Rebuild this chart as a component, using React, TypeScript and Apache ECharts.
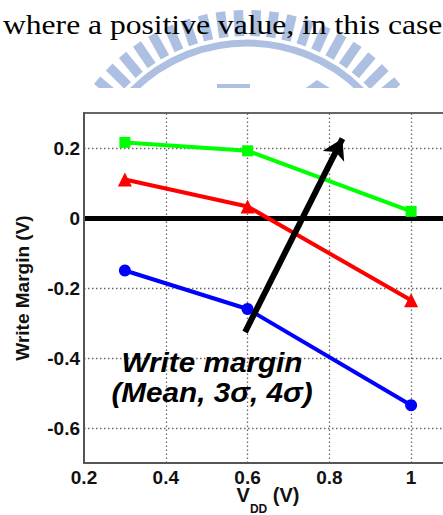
import React, { useEffect, useRef } from 'react';
import * as echarts from 'echarts';

// ---- data ----
const vdd = [0.3, 0.6, 1.0];
const meanMargin = [0.216, 0.192, 0.019];
const sigma3Margin = [0.11, 0.033, -0.235];
const sigma4Margin = [-0.15, -0.26, -0.535];
const xTickLabels = [0.2, 0.4, 0.6, 0.8, 1];
const yTickLabels = [0.2, 0, -0.2, -0.4, -0.6];
const xGridValues = [0.4, 0.6, 0.8, 1.0];
const yGridValues = [0.2, -0.2, -0.4, -0.6];
const zeroLine = [0];
const arrowFrom = [0.594, -0.326];
const arrowTo = [0.832, 0.227];
const headerText = 'where a positive value, in this case';
const annotationLines = ['Write margin', '(Mean, 3σ, 4σ)'];

const FONT = '"Liberation Sans", Arial, Helvetica, sans-serif';

function pickLabel(list: number[]) {
  return (v: number) => {
    const k = Math.round(v * 10);
    const hit = list.find((t) => Math.round(t * 10) === k);
    return hit === undefined ? '' : String(hit);
  };
}

function watermark() {
  const color = '#aec0e2';
  const cx = 247;
  const cy = 205;
  const r1 = 169;
  const r2 = 195;
  const hw = 4.8;
  const els: any[] = [];
  for (let a = 180 + 2.65; a < 360; a += 5.3) {
    const t = (a * Math.PI) / 180;
    const ux = Math.cos(t);
    const uy = Math.sin(t);
    const px = -uy;
    const py = ux;
    els.push({
      type: 'polygon',
      z: -2,
      silent: true,
      shape: {
        points: [
          [cx + r1 * ux + hw * px, cy + r1 * uy + hw * py],
          [cx + r2 * ux + hw * px, cy + r2 * uy + hw * py],
          [cx + r2 * ux - hw * px, cy + r2 * uy - hw * py],
          [cx + r1 * ux - hw * px, cy + r1 * uy - hw * py],
        ],
      },
      style: { fill: color },
    });
  }
  els.push({
    type: 'arc',
    z: -2,
    silent: true,
    shape: { cx, cy, r: 162, startAngle: Math.PI, endAngle: Math.PI * 2 },
    style: { stroke: color, lineWidth: 7, fill: 'none' },
  });
  els.push({
    type: 'rect',
    z: -2,
    silent: true,
    shape: { x: 217, y: 84, width: 33, height: 6 },
    style: { fill: color },
  });
  els.push({
    type: 'polygon',
    z: -2,
    silent: true,
    shape: { points: [[303, 90], [317, 80], [333, 90]] },
    style: { fill: color },
  });
  els.push({
    type: 'polygon',
    z: -2,
    silent: true,
    shape: { points: [[388, 90], [394, 83], [399, 90]] },
    style: { fill: color },
  });
  // white cover below the cut-off edge of the watermark
  els.push({
    type: 'rect',
    z: -1,
    silent: true,
    shape: { x: 0, y: 88, width: 443, height: 427 },
    style: { fill: '#ffffff' },
  });
  return els;
}

export default function App() {
  const ref = useRef<HTMLDivElement>(null);

  useEffect(() => {
    if (!ref.current) return;
    const chart = echarts.init(ref.current, undefined, { renderer: 'svg' });

    const pts = (ys: number[]) => vdd.map((x, i) => [x, ys[i]]);
    const dotted = { color: '#666666', width: 1.3, type: [1.5, 2.5] as any };

    const option: any = {
      animation: false,
      backgroundColor: '#ffffff',
      grid: {
        left: 84,
        top: 113,
        width: 368,
        height: 350,
        outerBoundsMode: 'none',
        containLabel: false,
        show: true,
        borderColor: '#666',
        borderWidth: 2,
        z: 3,
      },
      xAxis: {
        type: 'value',
        min: 0.2,
        max: 1.1,
        interval: 0.1,
        z: 3,
        axisLine: { show: true, onZero: false, lineStyle: { color: '#555', width: 2 } },
        axisTick: { show: false },
        splitLine: { show: false },
        axisLabel: {
          formatter: pickLabel(xTickLabels),
          fontFamily: FONT,
          fontWeight: 'bold',
          fontSize: 19,
          lineHeight: 16,
          color: '#111',
          margin: 6,
        },
        name: '{v|V}{s|DD}{v| (V)}',
        nameLocation: 'middle',
        nameGap: 22,
        nameMoveOverlap: false,
        nameTextStyle: {
          verticalAlign: 'top',
          rich: {
            v: {
              fontFamily: FONT,
              fontWeight: 'bold',
              fontSize: 20,
              color: '#111',
              lineHeight: 20,
              verticalAlign: 'top',
            },
            s: {
              fontFamily: FONT,
              fontWeight: 'bold',
              fontSize: 12,
              color: '#111',
              lineHeight: 12,
              padding: [18, 0, 0, 0],
              verticalAlign: 'top',
            },
          },
        },
      },
      yAxis: {
        type: 'value',
        min: -0.7,
        max: 0.3,
        interval: 0.1,
        z: 3,
        axisLine: { show: true, onZero: false, lineStyle: { color: '#555', width: 2 } },
        axisTick: { show: false },
        splitLine: { show: false },
        axisLabel: {
          formatter: pickLabel(yTickLabels),
          fontFamily: FONT,
          fontWeight: 'bold',
          fontSize: 19,
          color: '#111',
          margin: 4,
        },
        name: 'Write Margin (V)',
        nameLocation: 'middle',
        nameGap: 52,
        nameMoveOverlap: false,
        nameTextStyle: {
          fontFamily: FONT,
          fontWeight: 'bold',
          fontSize: 19,
          color: '#111',
        },
      },
      graphic: [
        ...watermark(),
        {
          type: 'text',
          z: 10,
          x: 3,
          y: 25,
          scaleX: 1.17,
          silent: true,
          style: {
            text: headerText,
            font: '27px "Liberation Serif", "Times New Roman", serif',
            fill: '#000',
            align: 'left',
            verticalAlign: 'middle',
          },
        },
        {
          type: 'text',
          z: 20,
          x: 212,
          y: 377,
          scaleX: 1.1,
          silent: true,
          style: {
            text: annotationLines.join('\n'),
            font: 'italic bold 27px "Liberation Sans", Arial, sans-serif',
            lineHeight: 30,
            fill: '#000',
            align: 'center',
            verticalAlign: 'middle',
          },
        },
      ],
      series: [
        {
          type: 'line',
          data: pts(meanMargin),
          symbol: 'none',
          silent: true,
          z: 2,
          lineStyle: { opacity: 0 },
          markLine: {
            z: 2,
            silent: true,
            symbol: ['none', 'none'],
            label: { show: false },
            lineStyle: dotted,
            emphasis: { disabled: true },
            data: [
              ...xGridValues.map((v) => ({ xAxis: v })),
              ...yGridValues.map((v) => ({ yAxis: v })),
            ],
          },
        },
        {
          type: 'line',
          data: pts(meanMargin),
          symbol: 'none',
          silent: true,
          z: 2,
          lineStyle: { opacity: 0 },
          markLine: {
            z: 2.5,
            silent: true,
            symbol: ['none', 'none'],
            label: { show: false },
            lineStyle: { color: '#000', width: 5, type: 'solid' },
            data: zeroLine.map((v) => ({ yAxis: v })),
          },
        },
        {
          name: 'Mean',
          type: 'line',
          z: 3,
          data: pts(meanMargin),
          symbol: 'rect',
          symbolSize: 11,
          lineStyle: { color: '#00ff00', width: 4 },
          itemStyle: { color: '#00ff00' },
        },
        {
          name: '3σ',
          type: 'line',
          z: 3,
          data: pts(sigma3Margin),
          symbol: 'triangle',
          symbolSize: 14,
          lineStyle: { color: '#ff0000', width: 4 },
          itemStyle: { color: '#ff0000' },
        },
        {
          name: '4σ',
          type: 'line',
          z: 3,
          data: pts(sigma4Margin),
          symbol: 'circle',
          symbolSize: 12,
          lineStyle: { color: '#0000ff', width: 4 },
          itemStyle: { color: '#0000ff' },
        },
        {
          type: 'line',
          data: [],
          silent: true,
          markLine: {
            z: 10,
            silent: true,
            symbol: ['none', 'arrow'],
            symbolSize: [18, 20],
            label: { show: false },
            lineStyle: { color: '#000', width: 6, type: 'solid' },
            itemStyle: { color: '#000' },
            data: [[{ coord: arrowFrom }, { coord: arrowTo }]],
          },
        },
      ],
    };

    chart.setOption(option);
    return () => chart.dispose();
  }, []);

  return (
    <div
      ref={ref}
      style={{
        position: 'fixed',
        left: 0,
        top: 0,
        width: 443,
        height: 515,
        background: '#fff',
      }}
    />
  );
}
